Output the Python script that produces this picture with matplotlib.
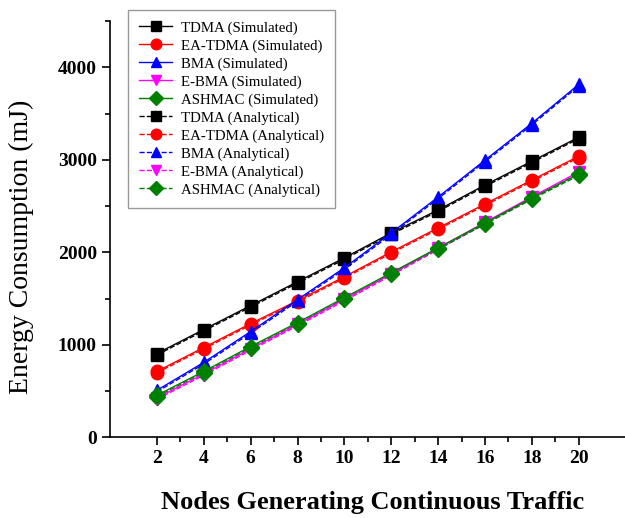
import matplotlib.pyplot as plt
from matplotlib.ticker import MultipleLocator

plt.rcParams['font.family'] = ['Liberation Serif', 'DejaVu Serif']

# Data
nodes = [2, 4, 6, 8, 10, 12, 14, 16, 18, 20]

tdma_sim = [905, 1165, 1423, 1682, 1940, 2210, 2458, 2728, 2986, 3245]
eatdma_sim = [712, 970, 1229, 1477, 1736, 2005, 2264, 2523, 2782, 3040]
bma_sim = [507, 809, 1143, 1488, 1833, 2210, 2598, 2997, 3396, 3817]
ebma_sim = [425, 685, 955, 1220, 1490, 1765, 2045, 2325, 2600, 2870]
ashmac_sim = [453, 712, 981, 1240, 1509, 1779, 2049, 2318, 2588, 2846]

tdma_ana = [890, 1150, 1408, 1667, 1925, 2195, 2443, 2713, 2971, 3230]
eatdma_ana = [697, 955, 1214, 1462, 1721, 1990, 2249, 2508, 2767, 3025]
bma_ana = [490, 792, 1126, 1471, 1816, 2193, 2581, 2980, 3379, 3800]
ebma_ana = [410, 670, 940, 1205, 1475, 1750, 2030, 2310, 2585, 2855]
ashmac_ana = [440, 698, 967, 1226, 1495, 1765, 2035, 2304, 2574, 2832]

fig = plt.figure(figsize=(6.25, 5.18), dpi=100)
ax = fig.add_axes([0.176, 0.156, 0.84, 0.803])

ms = 9
lw = 1.0
# analytical (dashed) first so the simulated markers sit on top
ax.plot(nodes, tdma_ana, '--', color='black', marker='s', ms=ms, lw=lw, label='TDMA (Analytical)')
ax.plot(nodes, eatdma_ana, '--', color='red', marker='o', ms=ms, lw=lw, label='EA-TDMA (Analytical)')
ax.plot(nodes, bma_ana, '--', color='blue', marker='^', ms=ms, lw=lw, label='BMA (Analytical)')
ax.plot(nodes, ebma_ana, '--', color='magenta', marker='v', ms=ms, lw=lw, label='E-BMA (Analytical)')
ax.plot(nodes, ashmac_ana, '--', color='green', marker='D', ms=ms - 1, lw=lw, label='ASHMAC (Analytical)')
ax.plot(nodes, tdma_sim, '-', color='black', marker='s', ms=ms, lw=lw, label='TDMA (Simulated)')
ax.plot(nodes, eatdma_sim, '-', color='red', marker='o', ms=ms, lw=lw, label='EA-TDMA (Simulated)')
ax.plot(nodes, bma_sim, '-', color='blue', marker='^', ms=ms, lw=lw, label='BMA (Simulated)')
ax.plot(nodes, ebma_sim, '-', color='magenta', marker='v', ms=ms, lw=lw, label='E-BMA (Simulated)')
ax.plot(nodes, ashmac_sim, '-', color='green', marker='D', ms=ms - 1, lw=lw, label='ASHMAC (Simulated)')

ax.set_xlim(0, 22.4)
ax.set_ylim(0, 4500)
ax.set_xticks(nodes)
ax.set_xticks([3, 5, 7, 9, 11, 13, 15, 17, 19], minor=True)
ax.yaxis.set_major_locator(MultipleLocator(1000))
ax.yaxis.set_minor_locator(MultipleLocator(500))
ax.tick_params(which='major', direction='out', length=6, width=1.2, labelsize=14)
ax.tick_params(which='minor', direction='out', length=3.5, width=1.2)
for lbl in ax.get_xticklabels() + ax.get_yticklabels():
    lbl.set_fontweight('bold')

ax.spines['top'].set_visible(False)
ax.spines['right'].set_visible(False)
ax.spines['left'].set_linewidth(1.2)
ax.spines['bottom'].set_linewidth(1.2)

ax.set_xlabel('Nodes Generating Continuous Traffic', fontsize=19, fontweight='bold', labelpad=17)
ax.set_ylabel('Energy Consumption (mJ)', fontsize=20)
ax.yaxis.set_label_coords(-0.145, 0.457)

# legend order: simulated first, then analytical
handles, labels = ax.get_legend_handles_labels()
order = list(range(5, 10)) + list(range(0, 5))
leg = ax.legend([handles[i] for i in order], [labels[i] for i in order],
                loc='upper left', bbox_to_anchor=(0.205, 0.981), bbox_transform=fig.transFigure,
                borderaxespad=0, fontsize=10.7, frameon=True, fancybox=False, edgecolor='gray',
                handlelength=2.2, labelspacing=0.3, borderpad=0.75, handletextpad=0.6,
                markerscale=0.85)
leg.get_frame().set_linewidth(1.0)

plt.savefig('out.png', dpi=100)
